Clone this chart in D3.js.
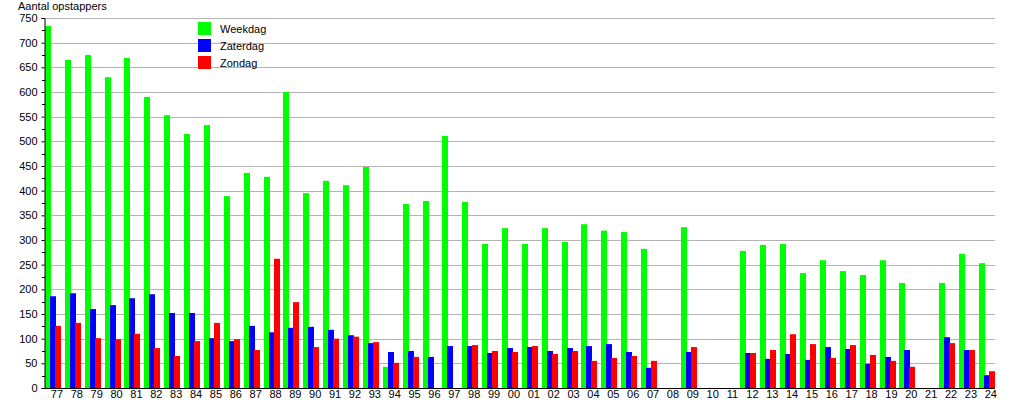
<!DOCTYPE html>
<html>
<head>
<meta charset="utf-8">
<script src="https://cdn.jsdelivr.net/npm/d3@7/dist/d3.min.js"></script>
<style>
  body { margin: 0; background: #fff; }
  text { font-family: "Liberation Sans", Arial, sans-serif; }
</style>
</head>
<body>
<div id="chart"></div>
<script>
var width = 1015,
    height = 400;

var years = ["77","78","79","80","81","82","83","84","85","86","87","88","89","90","91","92",
    "93","94","95","96","97","98","99","00","01","02","03","04","05","06","07","08",
    "09","10","11","12","13","14","15","16","17","18","19","20","21","22","23","24"];

var weekdag = [734,665,675,630,669,590,553,515,533,389,436,428,600,395,420,411,
    448,43,373,379,511,377,292,324,292,324,296,332,319,316,282,0,
    326,0,0,278,290,292,233,259,237,229,259,213,0,213,272,253];

var zaterdag = [186,192,160,168,182,190,152,152,101,95,126,113,122,124,118,107,
    91,73,75,63,85,85,71,81,83,75,81,85,89,73,41,0,
    73,0,0,71,59,69,57,83,79,49,63,77,0,103,77,26];

var zondag = [126,132,101,99,110,81,65,95,132,99,77,262,174,83,100,104,
    93,51,63,0,0,87,75,73,85,69,75,55,61,65,55,0,
    83,0,0,71,77,109,89,61,87,67,55,43,0,91,77,34];

var series = [
    { name: "Weekdag", values: weekdag, color: "#00ff00" },
    { name: "Zaterdag", values: zaterdag, color: "#0000ff" },
    { name: "Zondag", values: zondag, color: "#ff0000" }
];

var plotLeft = 45, plotRight = 995, plotTop = 18, plotBottom = 388;

var svg = d3.select("#chart").append("svg")
    .attr("width", width)
    .attr("height", height);

var x = d3.scaleBand()
    .domain(years)
    .range([plotLeft, plotLeft + 48 * 19.87]);

var y = d3.scaleLinear()
    .domain([0, 750])
    .range([plotBottom, plotTop]);

// grid
svg.append("g")
    .selectAll("line")
    .data(d3.range(50, 751, 50))
    .enter().append("line")
    .attr("x1", plotLeft)
    .attr("x2", plotRight)
    .attr("y1", function (d) { return Math.round(y(d)) + 0.5; })
    .attr("y2", function (d) { return Math.round(y(d)) + 0.5; })
    .attr("stroke", "#b4b4b4")
    .attr("stroke-width", 1);

// bars
series.forEach(function (s, i) {
    svg.append("g")
        .selectAll("rect")
        .data(s.values)
        .enter().append("rect")
        .attr("x", function (d, j) { return Math.round(x(years[j])) + i * 5; })
        .attr("y", function (d) { return y(d); })
        .attr("width", 6)
        .attr("height", function (d) { return plotBottom - y(d); })
        .attr("fill", s.color);
});

// y axis
var yAxis = svg.append("g")
    .attr("transform", "translate(" + (plotLeft - 0.5) + ",0)")
    .call(d3.axisLeft(y).tickValues(d3.range(0, 751, 50)).tickSize(3).tickPadding(4));
yAxis.selectAll("text").attr("font-size", 11).attr("fill", "#000")
    .style("font-family", "Liberation Sans, Arial, sans-serif");
yAxis.select(".domain").attr("stroke", "#000");

svg.append("g")
    .selectAll("line")
    .data(d3.range(25, 751, 50))
    .enter().append("line")
    .attr("x1", plotLeft - 3)
    .attr("x2", plotLeft)
    .attr("y1", function (d) { return Math.round(y(d)) + 0.5; })
    .attr("y2", function (d) { return Math.round(y(d)) + 0.5; })
    .attr("stroke", "#000");

// x axis
var xAxis = svg.append("g")
    .attr("transform", "translate(2," + plotBottom + ")")
    .call(d3.axisBottom(x).tickSize(0).tickPadding(2));
xAxis.select(".domain").remove();
xAxis.selectAll("text").attr("font-size", 11).attr("fill", "#000")
    .style("font-family", "Liberation Sans, Arial, sans-serif");

svg.append("line")
    .attr("x1", plotLeft - 1)
    .attr("x2", plotRight)
    .attr("y1", plotBottom + 0.5)
    .attr("y2", plotBottom + 0.5)
    .attr("stroke", "#000");

// title
svg.append("text")
    .attr("x", 18)
    .attr("y", 10)
    .attr("font-size", 11)
    .text("Aantal opstappers");

// legend
var legend = svg.append("g")
    .selectAll("g")
    .data(series)
    .enter().append("g")
    .attr("transform", function (d, i) { return "translate(198," + (22 + i * 17) + ")"; });

legend.append("rect")
    .attr("width", 13)
    .attr("height", 13)
    .attr("fill", function (d) { return d.color; });

legend.append("text")
    .attr("x", 22)
    .attr("y", 11)
    .attr("font-size", 11)
    .text(function (d) { return d.name; });
</script>
</body>
</html>
